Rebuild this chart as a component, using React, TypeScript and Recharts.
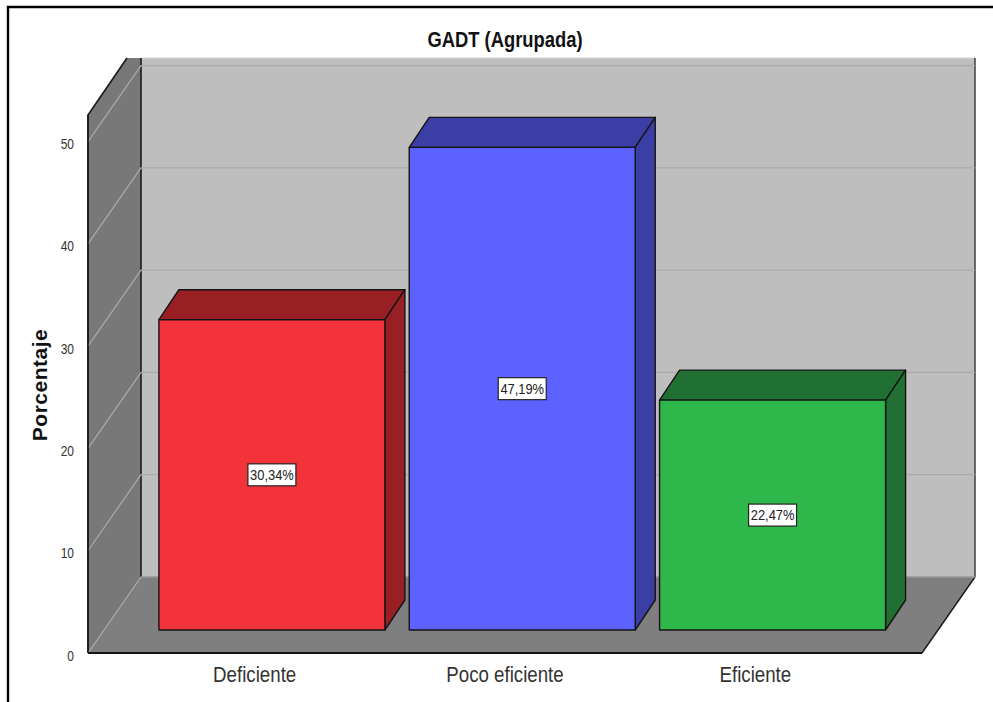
import React from "react";
import { BarChart, Bar, XAxis, YAxis, CartesianGrid, LabelList } from "recharts";

const categories = ["Deficiente", "Poco eficiente", "Eficiente"];
const percentages = [30.34, 47.19, 22.47];
const yTicks = [0, 10, 20, 30, 40, 50];
const rows = categories.map((name, i) => ({ name, value: percentages[i] }));

const W = 993, H = 702;
const L = 88, R = 922, B = 653, T = 115;
const DX = 53, DY = 76;      // wall depth
const SX = 17.4, SY = 23;    // bar front shift from the axis
const BDX = 20, BDY = 30;    // bar depth
const TOPCLIP = 58;
const front = ["#F3333A", "#5C61FF", "#2EB84B"];
const dark = ["#982024", "#3B3FA5", "#1F7032"];
const SANS = "'Liberation Sans',Arial,sans-serif";

const Squeezed = ({ x, y, sx, anchor = "middle", size, weight, fill, children }: any) => (
  <text
    transform={`translate(${x} ${y}) scale(${sx} 1)`}
    textAnchor={anchor}
    fontFamily={SANS}
    fontSize={size}
    fontWeight={weight}
    fill={fill}
  >
    {children}
  </text>
);

const Backdrop = () => (
  <svg width={W} height={H} style={{ position: "absolute", left: 0, top: 0 }}>
    <path d={`M8 ${H} L8 7 L${W} 7`} fill="none" stroke="#000" strokeWidth={2.4} />
    <rect x={L + DX} y={TOPCLIP} width={R - L} height={B - DY - TOPCLIP} fill="#BEBEBE" />
    <line x1={L + DX} x2={R + DX} y1={TOPCLIP} y2={TOPCLIP} stroke="#D6D6D6" strokeWidth={1} />
    <polygon points={`${L},${B} ${L},${T} ${L + 39},${TOPCLIP} ${L + DX},${TOPCLIP} ${L + DX},${B - DY}`} fill="#787878" />
    <polygon points={`${L},${B} ${L + DX},${B - DY} ${R + DX},${B - DY} ${R},${B}`} fill="#7F7F7F" />
    <path d={`M${L} ${B} L${L} ${T} L${L + 39} ${TOPCLIP}`} fill="none" stroke="#1A1A1A" strokeWidth={1.6} />
    <line x1={L + DX} x2={L + DX} y1={TOPCLIP} y2={B - DY} stroke="#1A1A1A" strokeWidth={1.6} />
    <line x1={R + DX} x2={R + DX} y1={TOPCLIP} y2={B - DY} stroke="#333" strokeWidth={1.4} />
    <line x1={R} y1={B} x2={R + DX} y2={B - DY} stroke="#1A1A1A" strokeWidth={1.4} />
    <line x1={L + DX} x2={R + DX} y1={B - DY} y2={B - DY} stroke="#707070" strokeWidth={1} />
  </svg>
);

const gridLine = (p: any) => {
  const { x1, x2, y1, index } = p;
  if (y1 - DY < TOPCLIP) return <g key={`g${index}`} />;
  return (
    <path
      key={`g${index}`}
      d={`M${x1} ${y1} L${x1 + DX} ${y1 - DY} L${x2 + DX} ${y1 - DY}`}
      fill="none"
      stroke="#ABABAB"
      strokeWidth={1.2}
    />
  );
};

const Bar3D = (p: any) => {
  const { x, y, width, height, index } = p;
  const x0 = x + SX, y0 = y - SY, x1 = x0 + width, y1 = y0 + height;
  const edge = { stroke: "#141414", strokeWidth: 1.4, strokeLinejoin: "round" as const };
  return (
    <g>
      <polygon points={`${x0},${y0} ${x0 + BDX},${y0 - BDY} ${x1 + BDX},${y0 - BDY} ${x1},${y0}`} fill={dark[index]} {...edge} />
      <polygon points={`${x1},${y0} ${x1 + BDX},${y0 - BDY} ${x1 + BDX},${y1 - BDY} ${x1},${y1}`} fill={dark[index]} {...edge} />
      <rect x={x0} y={y0} width={width} height={height} fill={front[index]} {...edge} />
    </g>
  );
};

const ValueBox = (p: any) => {
  const { x, y, width, height, value } = p;
  const cx = x + SX + width / 2, cy = y - SY + height / 2;
  return (
    <g>
      <rect x={cx - 24} y={cy - 11} width={48} height={22} fill="#fff" stroke="#222" strokeWidth={1.2} />
      <Squeezed x={cx} y={cy + 5} sx={0.86} size={15} fill="#222">
        {`${value.toFixed(2).replace(".", ",")}%`}
      </Squeezed>
    </g>
  );
};

const YTick = (p: any) => (
  <Squeezed x={p.x - 6} y={p.y + 7.5} sx={0.8} anchor="end" size={15} fill="#333">
    {p.payload.value}
  </Squeezed>
);

const XTick = (p: any) => (
  <Squeezed x={p.x} y={682} sx={0.85} size={22} fill="#333">
    {p.payload.value}
  </Squeezed>
);

export default function App() {
  return (
    <div style={{ position: "absolute", left: 0, top: 0, width: W, height: H, background: "#fff" }}>
      <Backdrop />
      <div style={{ position: "absolute", left: 0, top: 0 }}>
        <BarChart
          width={W}
          height={H}
          data={rows}
          margin={{ left: L - 40, right: W - R, top: T, bottom: 0 }}
          style={{ background: "transparent" }}
        >
          <CartesianGrid vertical={false} horizontal={gridLine} />
          <XAxis
            dataKey="name"
            height={H - B}
            padding={{ left: 41.5, right: 41.5 }}
            tickLine={false}
            tick={XTick}
            interval={0}
            axisLine={{ stroke: "#141414", strokeWidth: 2.2 }}
          />
          <YAxis
            width={40}
            domain={[0, 52.6]}
            ticks={yTicks}
            tickLine={false}
            tick={YTick}
            axisLine={{ stroke: "#1A1A1A", strokeWidth: 1.6 }}
            interval={0}
          />
          <Bar dataKey="value" barSize={226} shape={Bar3D} isAnimationActive={false}>
            <LabelList dataKey="value" content={ValueBox} />
          </Bar>
          <Squeezed x={505} y={47} sx={0.835} size={22} weight="bold" fill="#111">
            GADT (Agrupada)
          </Squeezed>
          <text
            x={47}
            y={385}
            textAnchor="middle"
            transform="rotate(-90 47 385)"
            fontFamily={SANS}
            fontWeight="bold"
            fontSize={21}
            letterSpacing={0.5}
            fill="#111"
          >
            Porcentaje
          </text>
        </BarChart>
      </div>
    </div>
  );
}
